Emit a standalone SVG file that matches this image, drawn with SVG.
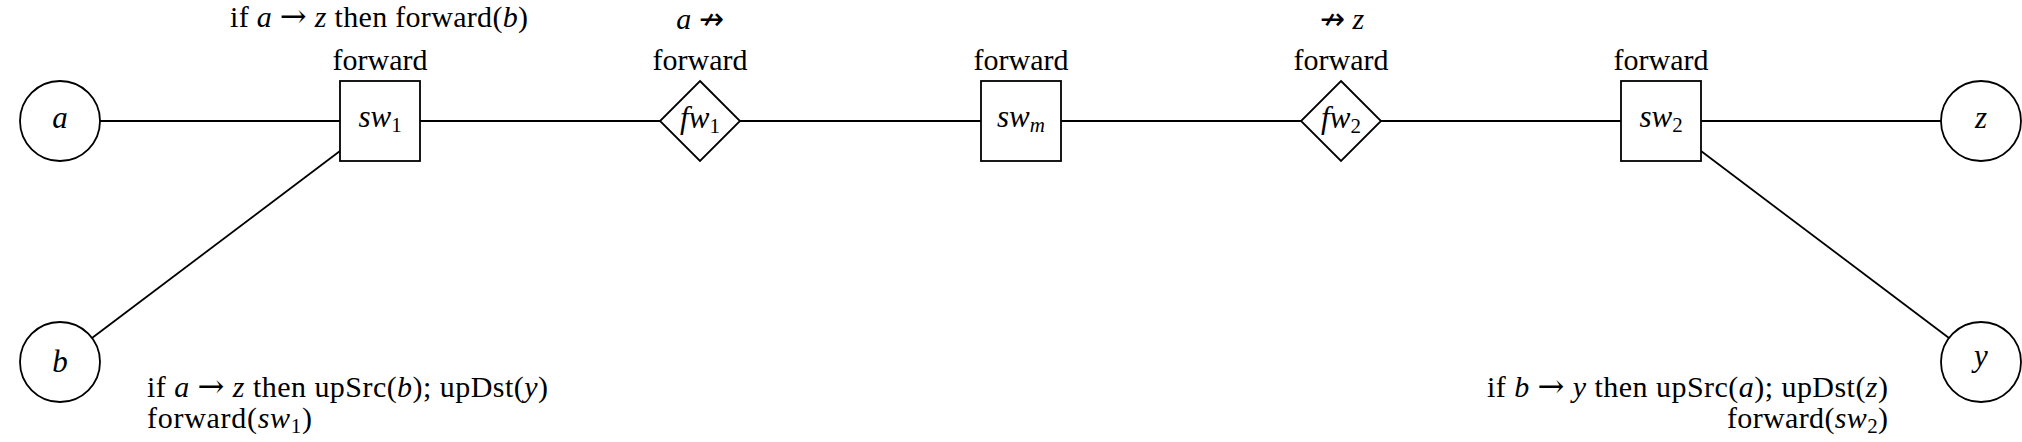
<svg xmlns="http://www.w3.org/2000/svg" width="2022" height="442" viewBox="0 0 2022 442">
<style>
  .shape { fill: #fff; stroke: #000; stroke-width: 1.8; }
  .edge { stroke: #000; stroke-width: 1.8; fill: none; }
  text { font-family: "Liberation Serif", "DejaVu Serif", serif; font-size: 30px; fill: #000; }
  .c { text-anchor: middle; }
  .e { text-anchor: end; }
  .i { font-style: italic; }
  .n { font-size: 31px; }
  .sub { font-size: 21px; }
  .ar { font-family: "DejaVu Serif", "DejaVu Sans", serif; font-size: 32px; font-weight: 200; }
  .nar { font-family: "DejaVu Sans", sans-serif; font-size: 30px; }
</style>
<rect width="2022" height="442" fill="#fff"/>
<g id="connectors">
  <line class="edge" x1="100" y1="121" x2="340" y2="121"/>
  <line class="edge" x1="420" y1="121" x2="660" y2="121"/>
  <line class="edge" x1="740" y1="121" x2="981" y2="121"/>
  <line class="edge" x1="1061" y1="121" x2="1301" y2="121"/>
  <line class="edge" x1="1381" y1="121" x2="1621" y2="121"/>
  <line class="edge" x1="1701" y1="121" x2="1941" y2="121"/>
  <line class="edge" x1="92" y1="338" x2="340" y2="151"/>
  <line class="edge" x1="1701" y1="151" x2="1949" y2="338"/>
</g>
<g id="node-a">
  <circle class="shape" cx="60" cy="121" r="40"/>
  <text class="c i n" x="60" y="128">a</text>
</g>
<g id="node-b">
  <circle class="shape" cx="60" cy="362" r="40"/>
  <text class="c i n" x="60" y="372">b</text>
</g>
<g id="node-sw1">
  <rect class="shape" x="340" y="81" width="80" height="80"/>
  <text class="c n" x="380" y="127"><tspan class="i">sw</tspan><tspan class="sub" dy="5">1</tspan></text>
  <text class="c" x="380" y="70">forward</text>
  <text class="c" x="379" y="27" textLength="298" lengthAdjust="spacing">if <tspan class="i">a</tspan> <tspan class="ar">→</tspan> <tspan class="i">z</tspan> then forward(<tspan class="i">b</tspan>)</text>
  <text x="147" y="397" textLength="401" lengthAdjust="spacing">if <tspan class="i">a</tspan> <tspan class="ar">→</tspan> <tspan class="i">z</tspan> then upSrc(<tspan class="i">b</tspan>);  upDst(<tspan class="i">y</tspan>)</text>
  <text x="147" y="428" textLength="165" lengthAdjust="spacing">forward(<tspan class="i">sw</tspan><tspan class="sub" dy="5">1</tspan><tspan dy="-5">)</tspan></text>
</g>
<g id="node-fw1">
  <polygon class="shape" points="700,81 740,121 700,161 660,121"/>
  <text class="c n" x="700" y="128"><tspan class="i">fw</tspan><tspan class="sub" dy="5">1</tspan></text>
  <text class="c" x="700" y="70">forward</text>
  <text class="c" x="700" y="29"><tspan class="i">a</tspan> <tspan class="nar">↛</tspan></text>
</g>
<g id="node-swm">
  <rect class="shape" x="981" y="81" width="80" height="80"/>
  <text class="c n" x="1021" y="127"><tspan class="i">sw</tspan><tspan class="sub i" dy="5">m</tspan></text>
  <text class="c" x="1021" y="70">forward</text>
</g>
<g id="node-fw2">
  <polygon class="shape" points="1341,81 1381,121 1341,161 1301,121"/>
  <text class="c n" x="1341" y="128"><tspan class="i">fw</tspan><tspan class="sub" dy="5">2</tspan></text>
  <text class="c" x="1341" y="70">forward</text>
  <text class="c" x="1342" y="29"><tspan class="nar">↛</tspan> <tspan class="i">z</tspan></text>
</g>
<g id="node-sw2">
  <rect class="shape" x="1621" y="81" width="80" height="80"/>
  <text class="c n" x="1661" y="127"><tspan class="i">sw</tspan><tspan class="sub" dy="5">2</tspan></text>
  <text class="c" x="1661" y="70">forward</text>
  <text class="e" x="1888" y="397" textLength="401" lengthAdjust="spacing">if <tspan class="i">b</tspan> <tspan class="ar">→</tspan> <tspan class="i">y</tspan> then upSrc(<tspan class="i">a</tspan>);  upDst(<tspan class="i">z</tspan>)</text>
  <text class="e" x="1888" y="428" textLength="161" lengthAdjust="spacing">forward(<tspan class="i">sw</tspan><tspan class="sub" dy="5">2</tspan><tspan dy="-5">)</tspan></text>
</g>
<g id="node-z">
  <circle class="shape" cx="1981" cy="121" r="40"/>
  <text class="c i n" x="1981" y="128">z</text>
</g>
<g id="node-y">
  <circle class="shape" cx="1981" cy="362" r="40"/>
  <text class="c i n" x="1981" y="366">y</text>
</g>
</svg>
